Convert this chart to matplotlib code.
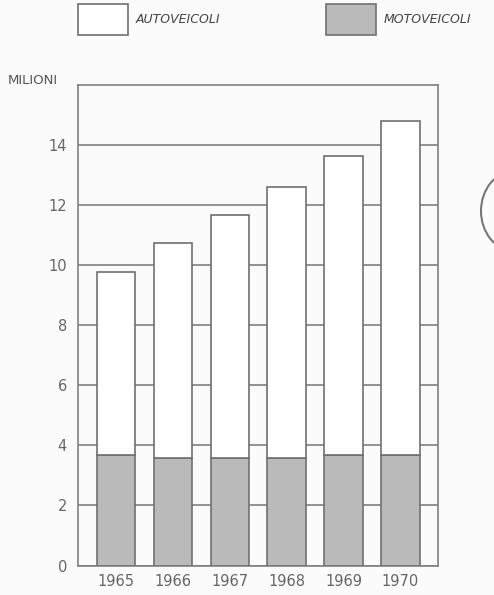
import matplotlib.pyplot as plt
from matplotlib.patches import Circle

anni = ['1965', '1966', '1967', '1968', '1969', '1970']
totale = [9.77, 10.73, 11.66, 12.62, 13.62, 14.79]
moto = [3.68, 3.57, 3.57, 3.59, 3.68, 3.68]
auto = [t - m for t, m in zip(totale, moto)]

plt.rcParams['font.family'] = 'DejaVu Sans'

fig = plt.figure(figsize=(4.94, 5.95), dpi=100, facecolor='#fbfbfb')
ax = fig.add_axes([78/494, 29.5/595, 360/494, 480.5/595])
ax.set_facecolor('#fbfbfb')

x = range(len(anni))
bm = ax.bar(x, moto, width=0.68, color='#bababa', edgecolor='#707070', linewidth=1.2, zorder=3)
ba = ax.bar(x, auto, bottom=moto, width=0.68, color='white', edgecolor='#707070', linewidth=1.2, zorder=3)

ax.set_xlim(-0.67, 5.66)
ax.set_ylim(0, 16)
ax.set_yticks(range(0, 16, 2))
ax.set_xticks(list(x))
ax.set_xticklabels(anni)
ax.yaxis.grid(True, color='#808080', linewidth=1.2, zorder=1)
ax.tick_params(length=0, labelsize=10.5, colors='#666666', pad=8)
ax.tick_params(axis='x', pad=6)
for s in ax.spines.values():
    s.set_color('#808080')
    s.set_linewidth(1.2)

fig.text(8/494, 1 - 80/595, 'MILIONI', fontsize=9.5, color='#555555', va='center')

leg = fig.legend([ba, bm], ['AUTOVEICOLI', 'MOTOVEICOLI'], ncol=2,
                 loc='upper left', bbox_to_anchor=(78/494, 1 - 4/595),
                 frameon=False, borderpad=0, borderaxespad=0,
                 handlelength=4, handleheight=3.4,
                 columnspacing=8.4, handletextpad=0.65,
                 prop={'style': 'italic', 'size': 9})
for t in leg.get_texts():
    t.set_color('#444444')

fig.patches.append(Circle((514/494, 1 - 211/595), 33/494, transform=fig.transFigure,
                          fill=False, edgecolor='#777777', linewidth=1.5))

fig.savefig('out.png', dpi=100, facecolor=fig.get_facecolor())
